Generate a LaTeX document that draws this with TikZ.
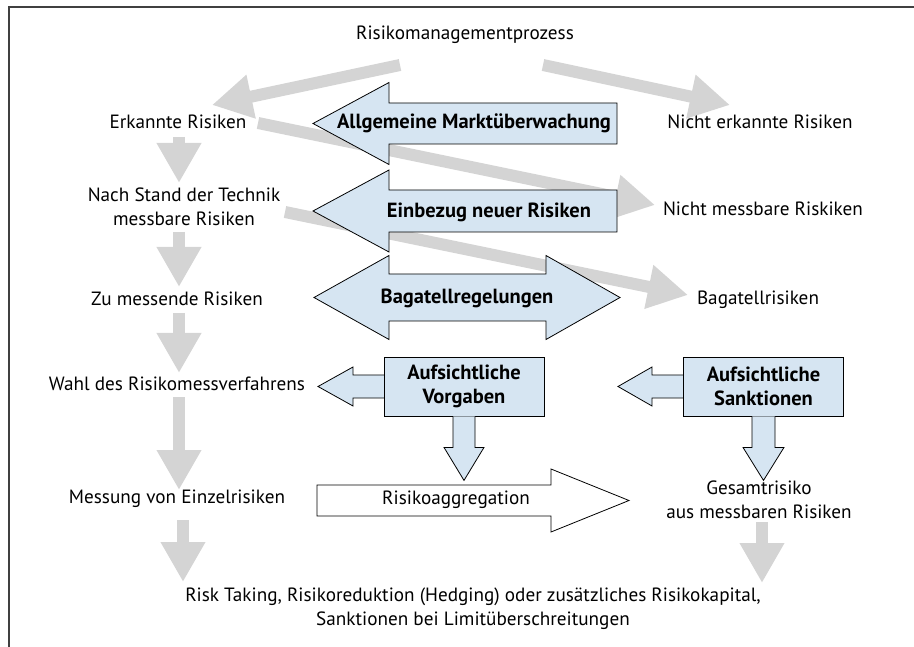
\documentclass[tikz,border=0pt]{standalone}
\usepackage{fontspec}
\setmainfont{PT Sans}
\usetikzlibrary{arrows.meta,calc}
\definecolor{paleblue}{RGB}{214,229,242}
\definecolor{flowgray}{RGB}{212,212,212}
\definecolor{framegray}{RGB}{64,64,64}

\begin{document}
\begin{tikzpicture}[x=1pt,y=-1pt,
	risk/.style={text centered, inner sep=1pt, align=center, font=\fontsize{19.2}{24}\selectfont},
	rulefont/.style={text centered, inner sep=1pt, align=center, font=\fontsize{20.5}{24}\selectfont\bfseries},
	grayflow/.style={line width=12pt, flowgray, -{Triangle[length=40pt,width=42pt]}},
	blockarrow/.style={draw, fill=paleblue, line width=0.8pt, line join=miter},
	rulebox/.style={rulefont, draw, fill=paleblue, line width=0.8pt, minimum width=160pt, minimum height=59pt}]

	\useasboundingbox (0,0) rectangle (914,647);
	%frame
	\draw[framegray, line width=1.6pt] (9,647) -- (9,7) -- (914,7);

	%risk nodes
	\node (Prozess) at (465,35) [risk]{Risikomanagementprozess};
	\node (Erkannte Risiken) at (178,122) [risk]{Erkannte Risiken};
	\node (Nicht erkannte Risiken) at (760,122) [risk]{Nicht erkannte Risiken};
	\node (Nach Stand) at (184,207) [risk]{Nach Stand der Technik\\messbare Risiken};
	\node (Nicht messbare Riskiken) at (763,209) [risk]{Nicht messbare Riskiken};
	\node (Zu messende Risiken) at (177,299) [risk]{Zu messende Risiken};
	\node (Bagatellrisiken) at (758,300) [risk]{Bagatellrisiken};
	\node (Wahl) at (177,384) [risk]{Wahl des Risikomessverfahrens};
	\node (Messung) at (177,499) [risk]{Messung von Einzelrisiken};
	\node (Gesamtrisiko) at (759,500) [risk]{Gesamtrisiko\\aus messbaren Risiken};
	\node (Risk Taking) at (473,609) [risk]{Risk Taking, Risikoreduktion (Hedging) oder zusätzliches Risikokapital,\\Sanktionen bei Limitüberschreitungen};

	%risk links
	\draw[grayflow] ($(Prozess)+(-65,30)$) -- ($(Erkannte Risiken)+(34,-17)$);
	\draw[grayflow] ($(Prozess)+(78,30)$) -- ($(Nicht erkannte Risiken)+(-30,-17)$);
	\draw[grayflow] ($(Erkannte Risiken)+(80,1)$) -- ($(Nicht messbare Riskiken)+(-108,-4)$);
	\draw[grayflow] ($(Nach Stand)+(101,5)$) -- ($(Bagatellrisiken)+(-70,-5)$);
	\draw[grayflow] ($(Erkannte Risiken)+(1,15)$) -- ($(Nach Stand)+(-5,-24)$);
	\draw[grayflow] ($(Nach Stand)+(-5,25)$) -- ($(Zu messende Risiken)+(2,-12)$);
	\draw[grayflow] ($(Zu messende Risiken)+(2,14)$) -- ($(Wahl)+(2,-11)$);
	\draw[grayflow] ($(Wahl)+(2,13)$) -- ($(Messung)+(2,-9)$);
	\draw[grayflow] ($(Messung)+(6,21)$) -- ($(Risk Taking)+(-290,-27)$);
	\draw[grayflow] ($(Gesamtrisiko)+(3,22)$) -- ($(Risk Taking)+(289,-26)$);

	%supervision arrows
	\draw[blockarrow] (313,123.5) -- (389,82.5) -- (389,103) -- (617,103) -- (617,144) -- (389,144) -- (389,164.5) -- cycle;
	\draw[blockarrow] (313,211) -- (389,170) -- (389,190) -- (617,190) -- (617,232) -- (389,232) -- (389,252) -- cycle;
	\draw[blockarrow] (314,297.5) -- (389,255.5) -- (389,274) -- (546,274) -- (546,255.5) -- (620,297.5) -- (546,339.5) -- (546,321) -- (389,321) -- (389,339.5) -- cycle;
	\draw[blockarrow, fill=white] (317,485) -- (551,485) -- (551,469) -- (629,500.5) -- (551,532) -- (551,516) -- (317,516) -- cycle;

	%supervision nodes
	\node (Allgemeine Marktueberwachung) at (474,123) [rulefont]{Allgemeine Marktüberwachung};
	\node (Einbezug neuer Risiken) at (489,212) [rulefont]{Einbezug neuer Risiken};
	\node (Bagatellregelungen) at (467,298) [rulefont]{Bagatellregelungen};
	\node (Risikoaggregation) at (456,500) [risk]{Risikoaggregation};

	%supervision boxes and their arrows
	\draw[blockarrow] (464,386.5) ++(-80,-11.5) -- ++(-31,0) -- ++(0,-8) -- ++(-35,19.5) -- ++(35,19.5) -- ++(0,-8) -- ++(31,0);
	\draw[blockarrow] (763.5,386.5) ++(-80.5,-11.5) -- ++(-31,0) -- ++(0,-8) -- ++(-34,19.5) -- ++(34,19.5) -- ++(0,-8) -- ++(31,0);
	\node (Aufsichtliche Vorgaben) at (464,386.5) [rulebox]{Aufsichtliche\\Vorgaben};
	\node (Aufsichtliche Sanktionen) at (763.5,386.5) [rulebox]{Aufsichtliche\\Sanktionen};
	\draw[blockarrow] (Aufsichtliche Vorgaben.south) ++(-11,0) -- ++(0,31) -- ++(-9,0) -- ++(20,33) -- ++(20,-33) -- ++(-9,0) -- ++(0,-31);
	\draw[blockarrow] (Aufsichtliche Sanktionen.south) ++(-11.5,0) -- ++(0,31) -- ++(-9,0) -- ++(20.5,33) -- ++(20.5,-33) -- ++(-9,0) -- ++(0,-31);

\end{tikzpicture}
\end{document}
